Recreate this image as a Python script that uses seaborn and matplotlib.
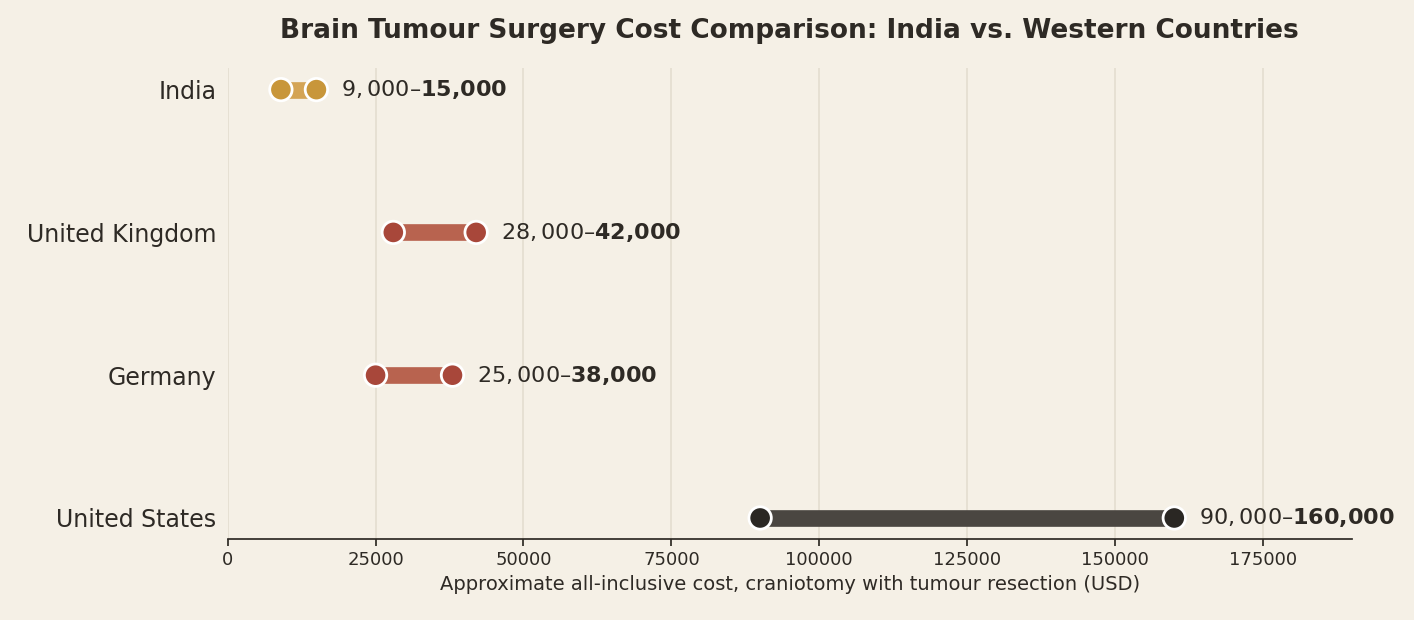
import matplotlib.pyplot as plt
import seaborn as sns
import pandas as pd

countries = ["India", "United Kingdom", "Germany", "United States"]
low = [9000, 28000, 25000, 90000]
high = [15000, 42000, 38000, 160000]
dot_colors = ["#c8963a", "#a8473a", "#a8473a", "#2a2723"]
bar_colors = ["#d4a455", "#b8634f", "#b8634f", "#4a4641"]

BG = "#f5f0e6"
INK = "#2e2a25"

sns.set_theme(style="white")
plt.rcParams["font.family"] = ["DejaVu Sans"]

fig, ax = plt.subplots(figsize=(14.14, 6.2), dpi=100)
fig.patch.set_facecolor(BG)
ax.set_facecolor(BG)

df = pd.DataFrame({"country": countries, "low": low, "high": high})
for i, row in df.iterrows():
    ax.plot([row.low, row.high], [i, i], color=bar_colors[i], lw=12,
            solid_capstyle="butt", zorder=2)
long = df.melt(id_vars="country", value_vars=["low", "high"], value_name="cost")
sns.scatterplot(data=long, x="cost", y="country", hue="country",
                palette=dict(zip(countries, dot_colors)), s=260,
                edgecolor="white", linewidth=2, legend=False, zorder=3, ax=ax)
for i, row in df.iterrows():
    lo = f"{row.low:,}".replace(",", "{,}")
    hi = f"{row.high:,}".replace(",", "{,}")
    ax.annotate(f"${row.low:,}$–" + r"$\mathbf{" + hi + "}$",
                (row.high, i), xytext=(18, 0), textcoords="offset points",
                va="center", ha="left", fontsize=16, color=INK)

ax.set_xlim(0, 190000)
ax.set_ylim(3.15, -0.15)
ax.set_xticks(range(0, 175001, 25000))
ax.grid(axis="x", color="#e3ddd0", lw=1.2)
ax.set_axisbelow(True)
for s in ["top", "right", "left"]:
    ax.spines[s].set_visible(False)
ax.spines["bottom"].set_color(INK)
ax.tick_params(axis="x", colors=INK, labelsize=13, bottom=True, length=5)
ax.tick_params(axis="y", colors=INK, labelsize=17, length=0, pad=8)
ax.set_ylabel("")
ax.set_xlabel("Approximate all-inclusive cost, craniotomy with tumour resection (USD)",
              fontsize=14, color=INK)
ax.set_title("Brain Tumour Surgery Cost Comparison: India vs. Western Countries",
             fontsize=19, fontweight="bold", color=INK, pad=22)

fig.subplots_adjust(left=0.161, right=0.956, top=0.89, bottom=0.13)
fig.savefig("out.png", facecolor=BG)
